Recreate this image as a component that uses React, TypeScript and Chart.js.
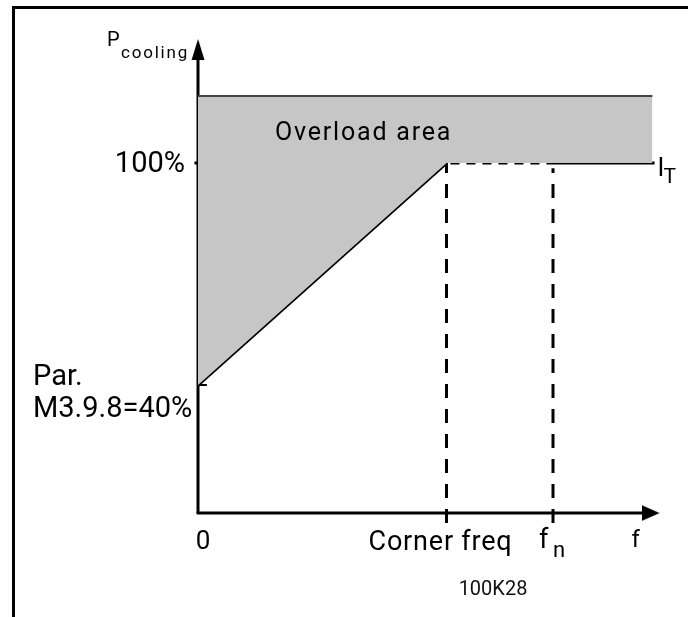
import React, { useEffect, useRef } from "react";
import { Chart, registerables } from "chart.js";

Chart.register(...registerables);

// ---- data (schematic units) ----
const FREQ_LABELS = ["0", "Corner freq", "f", "f"]; // f_n, f (axis)
const FREQ_SUBS = ["", "", "n", ""];
const FREQ_VALUES = [0, 70, 100, 130]; // origin, corner freq, nominal freq, axis end
const COOLING_LABELS = ["Par.", "M3.9.8=40%", "100%"];
const COOLING_VALUES = [40, 100]; // Par. M3.9.8 minimum, nominal 100 %
const OVERLOAD_TOP = [118.1];
const OVERLOAD_END = [128.0];
const AXIS_BASE = [5.4];
const AXIS_TIP_Y = [133.5];
const Y_SHAFT_END = [131.5];
const X_SHAFT_END = [127.3];
const TICK_BELOW = [2.7];
const TICK_LEFT = [-1];
const PAR_TICK = [2.5];
const IT_END = [128.6];

const X_MIN = -55.775;
const X_MAX = 138.028;
const Y_MIN = -22.703;
const Y_MAX = 144.054;

const FONT = "Roboto, 'DejaVu Sans', sans-serif";

function makeArrow(dir: "up" | "right"): HTMLCanvasElement {
  const c = document.createElement("canvas");
  const ctx = c.getContext("2d")!;
  if (dir === "up") {
    const L = 21, W = 13;
    c.width = W + 1;
    c.height = 2 * L;
    ctx.fillStyle = "#000";
    ctx.beginPath();
    ctx.moveTo((W + 1) / 2, L);
    ctx.lineTo(W + 0.5, 2 * L);
    ctx.lineTo(0.5, 2 * L);
    ctx.closePath();
    ctx.fill();
  } else {
    const L = 18, W = 16;
    c.width = 2 * L;
    c.height = W;
    ctx.fillStyle = "#000";
    ctx.beginPath();
    ctx.moveTo(L, W / 2);
    ctx.lineTo(0, 0);
    ctx.lineTo(0, W);
    ctx.closePath();
    ctx.fill();
  }
  return c;
}

const labelPlugin = {
  id: "schematicLabels",
  afterDraw(chart: any) {
    const { ctx, scales } = chart;
    const sx = (v: number) => scales.x.getPixelForValue(v);
    const sy = (v: number) => scales.y.getPixelForValue(v);
    const txt = (t: string, x: number, y: number, size: number, align: CanvasTextAlign = "left", color = "#000", spacing = 0) => {
      ctx.save();
      ctx.font = `${size}px ${FONT}`;
      ctx.fillStyle = color;
      ctx.textAlign = align;
      ctx.textBaseline = "alphabetic";
      if (spacing && (ctx as any).letterSpacing !== undefined) (ctx as any).letterSpacing = `${spacing}px`;
      ctx.fillText(t, x, y);
      ctx.restore();
    };
    const x0 = sx(FREQ_VALUES[0]);
    const yBase = sy(AXIS_BASE[0]);
    // y-axis title
    const yTip = sy(AXIS_TIP_Y[0]);
    txt("P", x0 - 91, yTip + 7, 20);
    txt("cooling", x0 - 77, yTip + 19, 17, "left", "#000", 1.8);
    // 100%
    const y100 = sy(COOLING_VALUES[1]);
    txt(COOLING_LABELS[2], x0 - 13, y100 + 9, 29, "right");
    // Overload area
    txt("Overload area", x0 + 77, sy(OVERLOAD_TOP[0]) + 44, 25, "left", "#000", 1.8);
    // I_T
    const xIT = sx(IT_END[0]);
    txt("I", xIT + 3, y100 + 13, 25);
    txt("T", xIT + 9, y100 + 20, 21);
    // Par.
    const yPar = sy(COOLING_VALUES[0]);
    txt(COOLING_LABELS[0], 33, yPar, 29);
    txt(COOLING_LABELS[1], 33, yPar + 32, 29);
    // x labels
    txt(FREQ_LABELS[0], x0 + 5, yBase + 36, 26, "center");
    txt(FREQ_LABELS[1], sx(FREQ_VALUES[1]) - 6, yBase + 37, 27, "center", "#000", 0.8);
    const xn = sx(FREQ_VALUES[2]);
    txt(FREQ_LABELS[2], xn - 14, yBase + 35, 27);
    txt(FREQ_SUBS[2], xn, yBase + 44, 22);
    txt(FREQ_LABELS[3], sx(FREQ_VALUES[3]) - 28, yBase + 34, 24);
    // figure code
    txt("100K28", x0 + 295, yBase + 82, 20, "center", "#111");
  },
};

export default function App() {
  const ref = useRef<HTMLCanvasElement>(null);
  useEffect(() => {
    if (!ref.current) return;
    const up = makeArrow("up");
    const right = makeArrow("right");
    const [f0, fc, fn] = FREQ_VALUES;
    const [par, nom] = COOLING_VALUES;
    const black = "#000";
    const line = (data: any[], extra: any = {}) => ({
      type: "line",
      data,
      borderColor: black,
      borderWidth: 3,
      pointRadius: 0,
      fill: false,
      tension: 0,
      ...extra,
    });
    const chart = new Chart(ref.current, {
      type: "line",
      data: {
        datasets: [
          // overload area upper edge
          line(
            [
              { x: f0, y: OVERLOAD_TOP[0] },
              { x: OVERLOAD_END[0], y: OVERLOAD_TOP[0] },
            ],
            { borderColor: "#444", borderWidth: 2 }
          ),
          // overload area lower boundary, filled up to dataset 0
          line(
            [
              { x: f0, y: par },
              { x: fc, y: nom },
              { x: OVERLOAD_END[0], y: nom },
            ],
            { borderWidth: 0, borderColor: "rgba(0,0,0,0)", fill: { target: 0 }, backgroundColor: "#c6c6c6" }
          ),
          // cooling ramp
          line([
            { x: f0, y: par },
            { x: fc, y: nom },
          ], { borderWidth: 3.3 }),
          // 100% dashed
          line(
            [
              { x: TICK_LEFT[0], y: nom },
              { x: fn, y: nom },
            ],
            { borderDash: [9, 7] }
          ),
          // I_T solid
          line(
            [
              { x: fn, y: nom },
              { x: IT_END[0], y: nom },
            ],
            { borderWidth: 3 }
          ),
          // corner freq vertical
          line(
            [
              { x: fc, y: TICK_BELOW[0] },
              { x: fc, y: nom },
            ],
            { borderDash: [14, 11] }
          ),
          // f_n vertical
          line(
            [
              { x: fn, y: TICK_BELOW[0] },
              { x: fn, y: nom - 1.4 },
            ],
            { borderDash: [14, 11] }
          ),
          // par tick
          line(
            [
              { x: f0, y: par },
              { x: PAR_TICK[0], y: par },
            ],
            { borderWidth: 2 }
          ),
          // y axis
          line(
            [
              { x: f0, y: AXIS_BASE[0] },
              { x: f0, y: Y_SHAFT_END[0] },
            ],
            { borderWidth: 3 }
          ),
          // x axis
          line(
            [
              { x: f0 - 0.4, y: AXIS_BASE[0] },
              { x: X_SHAFT_END[0], y: AXIS_BASE[0] },
            ],
            { borderWidth: 3 }
          ),
          // arrow heads
          {
            type: "scatter",
            data: [{ x: f0, y: AXIS_TIP_Y[0] }],
            pointStyle: up,
            pointRadius: 5,
            showLine: false,
          },
          {
            type: "scatter",
            data: [{ x: FREQ_VALUES[3], y: AXIS_BASE[0] }],
            pointStyle: right,
            pointRadius: 5,
            showLine: false,
          },
        ] as any,
      },
      options: {
        animation: false,
        responsive: false,
        events: [],
        layout: { padding: 0, autoPadding: false },
        plugins: { legend: { display: false }, tooltip: { enabled: false } },
        scales: {
          x: { type: "linear", min: X_MIN, max: X_MAX, display: false },
          y: { type: "linear", min: Y_MIN, max: Y_MAX, display: false },
        },
      } as any,
      plugins: [labelPlugin],
    });
    return () => chart.destroy();
  }, []);
  return (
    <div style={{ position: "fixed", left: 0, top: 0, width: 688, height: 617, background: "#fff" }}>
      <div
        style={{
          position: "absolute",
          left: 12,
          top: 6,
          right: 0,
          bottom: 0,
          borderTop: "3px solid #000",
          borderLeft: "3px solid #000",
        }}
      />
      <canvas ref={ref} width={688} height={617} style={{ position: "absolute", left: 0, top: 0 }} />
    </div>
  );
}
